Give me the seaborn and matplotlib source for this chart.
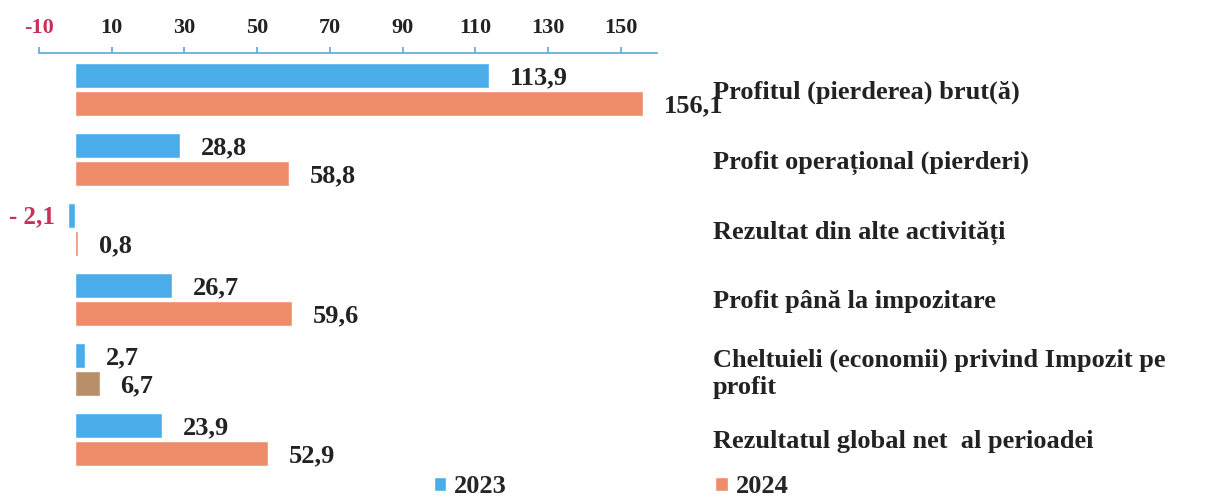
import matplotlib
matplotlib.use("Agg")
import matplotlib.pyplot as plt
import seaborn as sns
import pandas as pd

categories = [
    "Profitul (pierderea) brut(ă)",
    "Profit operațional (pierderi)",
    "Rezultat din alte activități",
    "Profit până la impozitare",
    "Cheltuieli (economii) privind Impozit pe\nprofit",
    "Rezultatul global net  al perioadei",
]
years = ["2023", "2024"]
values_2023 = [113.9, 28.8, -2.1, 26.7, 2.7, 23.9]
values_2024 = [156.1, 58.8, 0.8, 59.6, 6.7, 52.9]
tick_values = [-10, 10, 30, 50, 70, 90, 110, 130, 150]

BLUE = "#4AADEA"
ORANGE = "#EE8C6A"
BROWN = "#B98F6A"
RED = "#C8305A"
AXBLUE = "#5AA8D8"

sns.set_theme(style="white")
plt.rcParams["font.family"] = ["Liberation Serif", "DejaVu Serif"]

df = pd.DataFrame({
    "cat": categories * 2,
    "year": [years[0]] * len(categories) + [years[1]] * len(categories),
    "val": values_2023 + values_2024,
})

fig = plt.figure(figsize=(12.07, 5.03), dpi=100)
ax = fig.add_axes([0.0323, 0.0497, 0.5120, 0.8449])

sns.barplot(data=df, y="cat", x="val", hue="year", orient="h",
            palette=[BLUE, ORANGE], width=0.8, gap=0.1, ax=ax,
            saturation=1, errorbar=None)

ax.set_xlim(-10, 160)
ax.set_ylim(5.55, -0.52)

# brownish tint of the 2024 tax bar in the reference
ax.containers[1][4].set_facecolor(BROWN)

# value labels
for ci, cont in enumerate(ax.containers):
    vals = values_2023 if ci == 0 else values_2024
    for bar, v in zip(cont, vals):
        yc = bar.get_y() + bar.get_height() / 2
        if v < 0:
            txt = "- " + f"{abs(v):.1f}".replace(".", ",")
            ax.annotate(txt, (v, yc), xytext=(-9, -1), textcoords="offset points",
                        ha="right", va="center", fontsize=18, fontweight="bold",
                        color=RED, annotation_clip=False)
        else:
            txt = f"{v:.1f}".replace(".", ",")
            ax.annotate(txt, (v, yc), xytext=(15, -1.5), textcoords="offset points",
                        ha="left", va="center", fontsize=19, fontweight="bold",
                        color="#222222", annotation_clip=False)

# x axis on top
ax.xaxis.set_ticks_position("top")
ax.xaxis.set_label_position("top")
ax.set_xticks(tick_values)
ax.set_xticklabels([str(t) for t in tick_values])
ax.tick_params(axis="x", direction="out", length=4.5, width=1.2, color=AXBLUE,
               pad=6.5, labelsize=16, labelcolor="#222222")
for lab in ax.get_xticklabels():
    lab.set_fontweight("bold")
ax.get_xticklabels()[0].set_color(RED)

# category labels on right
ax.yaxis.set_ticks_position("right")
ax.tick_params(axis="y", length=0, pad=40, labelsize=19)
for lab in ax.get_yticklabels():
    lab.set_fontweight("bold")
    lab.set_horizontalalignment("left")
    lab.set_color("#222222")
    lab.set_multialignment("left")

ax.set_xlabel("")
ax.set_ylabel("")
for s in ["left", "right", "bottom"]:
    ax.spines[s].set_visible(False)
ax.spines["top"].set_color(AXBLUE)
ax.spines["top"].set_linewidth(1.2)

# legend
handles, labels = ax.get_legend_handles_labels()
if ax.get_legend() is not None:
    ax.get_legend().remove()
leg = fig.legend(handles, labels, loc="lower center", ncol=2,
                 bbox_to_anchor=(611 / 1207, -0.038), frameon=False,
                 handlelength=0.47, handleheight=0.47, handletextpad=0.3,
                 columnspacing=7.9, prop={"weight": "bold", "size": 19})

fig.savefig("out.png", dpi=100, facecolor="white")
